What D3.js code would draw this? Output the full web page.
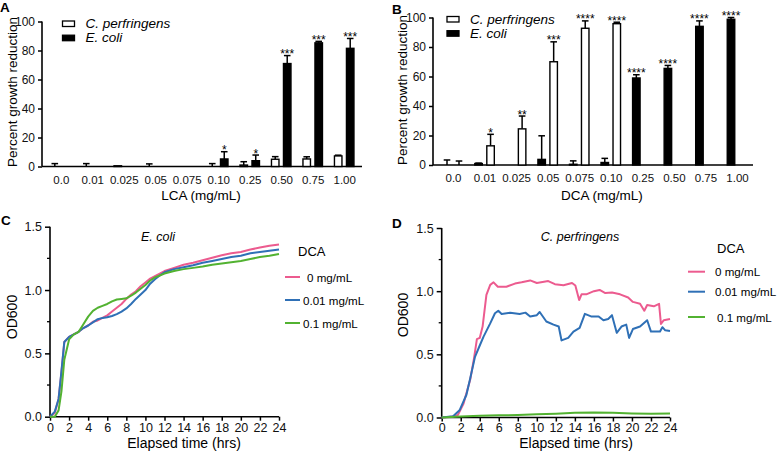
<!DOCTYPE html>
<html><head><meta charset="utf-8">
<script src="https://cdn.jsdelivr.net/npm/d3@7"></script>
<style>
body{margin:0;background:#fff;}
svg{display:block;font-family:Arial,'Liberation Sans',sans-serif;}
</style></head><body>
<svg id="c" width="778" height="455"></svg>
<script>
// ---------- data ----------
const concCats = ["0.0","0.01","0.025","0.05","0.075","0.10","0.25","0.50","0.75","1.00"];
// Panel A (LCA)
const lcaPerf    = [0, 0, 0.5, 0, 0, 0, 1, 5, 5.2, 7.3];
const lcaPerfErr = [2, 2, 0, 1.8, 0, 2, 2.3, 1.8, 1.5, 0.5];
const lcaEcoli    = [0, 0, 0, 0, 0, 5.2, 4, 71, 85.3, 81.5];
const lcaEcoliErr = [0, 0, 0, 0, 0, 5, 3.9, 5.5, 1, 6.8];
const lcaStars    = ["","","","","","*","*","***","***","***"];
const lcaStarSeries = ["","","","","","ecoli","ecoli","ecoli","ecoli","ecoli"];
// Panel B (DCA)
const dcaEcoli    = [0, 1, 0, 3.8, 0.5, 1.7, 59, 65.5, 94, 98.8];
const dcaEcoliErr = [3.4, 0.3, 0, 16, 2.3, 2.8, 2.2, 2, 3.7, 1.2];
const dcaPerf     = [0, 13, 24.5, 70, 92.7, 95.8, 0, 0, 0, 0];
const dcaPerfErr  = [2.7, 7.8, 8.7, 13.5, 5, 1, 0, 0, 0, 0];
const dcaStars    = ["","*","**","***","****","****","****","****","****","****"];
const dcaStarSeries = ["","perf","perf","perf","perf","perf","ecoli","ecoli","ecoli","ecoli"];
const pctTicks = [0,20,40,60,80,100];
// Panel C (E. coli growth)
const cTime  = [0,0.5,0.9,1.2,1.5,2,2.5,3,3.5,4,4.5,5,5.5,6,6.5,7,7.5,8,8.5,9,9.5,10,10.5,11,11.5,12,13,14,15,16,17,18,19,20,21,22,23,24];
const cPink  = [0,0.03,0.14,0.35,0.59,0.63,0.65,0.67,0.70,0.72,0.75,0.76,0.78,0.80,0.83,0.86,0.89,0.93,0.965,0.99,1.03,1.06,1.09,1.11,1.13,1.15,1.175,1.20,1.215,1.235,1.255,1.275,1.29,1.30,1.32,1.335,1.35,1.36];
const cBlue  = [0,0.04,0.14,0.36,0.59,0.63,0.65,0.67,0.70,0.72,0.745,0.77,0.78,0.785,0.795,0.81,0.83,0.855,0.89,0.93,0.965,1.00,1.05,1.085,1.115,1.14,1.165,1.18,1.195,1.215,1.23,1.245,1.26,1.27,1.29,1.30,1.31,1.32];
const cGreen = [0,0,0.05,0.2,0.45,0.61,0.65,0.67,0.73,0.79,0.835,0.86,0.875,0.89,0.91,0.925,0.93,0.935,0.955,0.98,1.01,1.04,1.075,1.10,1.115,1.13,1.15,1.165,1.175,1.185,1.20,1.21,1.22,1.23,1.245,1.26,1.27,1.285];
// Panel D (C. perfringens growth)
const dPinkT = [0,1,1.7,2.3,3.0,3.4,3.7,4.0,4.3,4.7,5.1,5.45,5.9,6.8,7.7,8.4,9.3,10.0,11.2,11.9,12.8,13.7,14.05,14.45,14.7,15.2,16.0,16.6,17.2,17.9,18.75,19.6,20.1,20.85,21.3,21.6,22.3,22.85,23.05,23.35,24];
const dPinkV = [0,0.005,0.02,0.11,0.30,0.47,0.62,0.63,0.72,0.97,1.05,1.07,1.035,1.035,1.06,1.07,1.085,1.065,1.08,1.055,1.047,1.065,1.045,0.93,0.975,0.975,1.0,1.01,0.985,0.99,0.975,0.95,0.915,0.9,0.845,0.89,0.88,0.9,0.74,0.77,0.78];
const dBlueT = [0,1.2,1.9,2.6,3.0,3.5,4.0,4.4,5.1,5.6,5.95,6.3,7.2,8.2,8.8,9.3,10.0,10.3,11.0,11.75,12.3,12.6,13.3,13.85,14.5,15.05,15.7,16.5,17.0,17.5,17.9,18.4,18.9,19.4,19.7,20.1,20.85,21.6,22.0,22.95,23.2,23.5,24];
const dBlueV = [0,0.01,0.06,0.18,0.31,0.48,0.57,0.64,0.745,0.825,0.845,0.82,0.83,0.82,0.83,0.80,0.81,0.835,0.76,0.735,0.72,0.61,0.63,0.68,0.71,0.82,0.80,0.80,0.77,0.78,0.81,0.67,0.72,0.735,0.63,0.70,0.72,0.77,0.68,0.68,0.715,0.69,0.685];
const dGreenT = [0,2,4,6,8,10,12,14,16,18,20,22,24];
const dGreenV = [0,0.008,0.013,0.017,0.02,0.025,0.03,0.037,0.04,0.037,0.032,0.03,0.032];
const odTicks = [0,0.5,1.0,1.5];
const odMinor = [0.25,0.75,1.25];
const hrTicks = [0,2,4,6,8,10,12,14,16,18,20,22,24];
const legendLabels = ["0 mg/mL","0.01 mg/mL","0.1 mg/mL"];
const lineColors = ["#ec5b8f","#2f70b6","#52b231"];

// ---------- drawing ----------
const svg = d3.select("#c");
svg.append("rect").attr("width",778).attr("height",455).attr("fill","#fff");
const FONT = "Arial,'Liberation Sans',sans-serif";

function panelLetter(t,x,y){
  svg.append("text").attr("x",x).attr("y",y).attr("font-size",13.5).attr("font-weight","bold").text(t);
}

function barPanel(o){
  const g = svg.append("g");
  const x = d3.scalePoint().domain(concCats).range(o.xr);
  const y = d3.scaleLinear().domain([0,100]).range(o.yr);
  const w = 7.5, off = 6;
  const ya = g.append("g").attr("transform",`translate(${o.ax0},0)`)
    .call(d3.axisLeft(y).tickValues(pctTicks).tickSize(4).tickPadding(3).tickFormat(d3.format("d")));
  ya.select(".domain").attr("stroke-width",1.6).attr("d",`M0,${o.yr[0]}V${o.yr[1]}`);
  ya.selectAll(".tick line").attr("stroke-width",1.5);
  ya.selectAll("text").attr("font-size",12).attr("font-family",FONT).attr("fill","#111");
  const xa = g.append("g").attr("transform",`translate(0,${o.yr[0]})`)
    .call(d3.axisBottom(x).tickSize(0).tickPadding(9));
  xa.select(".domain").attr("stroke-width",1.6).attr("d",`M${o.ax0},0H${o.ax1}`);
  xa.selectAll("text").attr("font-size",11.5).attr("font-family",FONT).attr("fill","#111");
  o.series.forEach(s=>{
    const cx = i => x(concCats[i]) + s.off*off;
    s.vals.forEach((v,i)=>{
      if(s.err[i]<=0) return;
      const top = y(v + s.err[i]);
      g.append("line").attr("x1",cx(i)).attr("x2",cx(i)).attr("y1",y(v)).attr("y2",top).attr("stroke","#000").attr("stroke-width",1.5);
      g.append("line").attr("x1",cx(i)-3.3).attr("x2",cx(i)+3.3).attr("y1",top).attr("y2",top).attr("stroke","#000").attr("stroke-width",1.5);
    });
    g.selectAll(null).data(s.vals).enter().append("rect")
      .attr("x",(d,i)=>cx(i)-w/2).attr("width",w)
      .attr("y",d=>y(d)).attr("height",d=>Math.max(0,y(0)-y(d)))
      .attr("fill",s.fill).attr("stroke","#000").attr("stroke-width",1.4);
  });
  o.stars.forEach((st,i)=>{
    if(!st) return;
    const s = o.series.find(z=>z.key===o.starSeries[i]);
    const top = y(s.vals[i]+s.err[i]);
    g.append("text").attr("x",x(concCats[i])+s.off*off).attr("y",top+2.5)
      .attr("text-anchor","middle").attr("font-size",12).text(st);
  });
  g.append("text").attr("transform",`translate(${o.ytx},${o.yty}) rotate(-90)`)
    .attr("text-anchor","middle").attr("font-size",13.5).text("Percent growth reduction");
  g.append("text").attr("x",o.xtx).attr("y",200).attr("text-anchor","middle").attr("font-size",13.5).text(o.xtitle);
  o.series.slice().sort((a,b)=>a.leg-b.leg).forEach((s,k)=>{
    g.append("rect").attr("x",o.lx).attr("y",o.ly+k*14.2-5).attr("width",12).attr("height",5.5)
      .attr("fill",s.fill).attr("stroke","#000").attr("stroke-width",1.3);
    g.append("text").attr("x",o.lx+23).attr("y",o.ly+k*14.2+2).attr("font-size",13.5).attr("font-style","italic").text(s.name);
  });
}

barPanel({
  xr:[60.8,344.2], yr:[166.5,21.5], ax0:42, ax1:362,
  series:[
    {key:"perf", name:"C. perfringens", vals:lcaPerf, err:lcaPerfErr, fill:"#fff", off:-1, leg:0},
    {key:"ecoli", name:"E. coli", vals:lcaEcoli, err:lcaEcoliErr, fill:"#000", off:1, leg:1}
  ],
  stars:lcaStars, starSeries:lcaStarSeries,
  ytx:17, yty:92, xtx:201, xtitle:"LCA (mg/mL)", lx:62.5, ly:26
});
barPanel({
  xr:[453,737], yr:[165,17.5], ax0:433, ax1:753,
  series:[
    {key:"ecoli", name:"E. coli", vals:dcaEcoli, err:dcaEcoliErr, fill:"#000", off:-1, leg:1},
    {key:"perf", name:"C. perfringens", vals:dcaPerf, err:dcaPerfErr, fill:"#fff", off:1, leg:0}
  ],
  stars:dcaStars, starSeries:dcaStarSeries,
  ytx:407, yty:90, xtx:602, xtitle:"DCA (mg/mL)", lx:447, ly:21.5
});

function linePanel(o){
  const g = svg.append("g");
  const x = d3.scaleLinear().domain([0,24]).range(o.xr);
  const y = d3.scaleLinear().domain([0,1.5]).range(o.yr);
  const ya = g.append("g").attr("transform",`translate(${o.xr[0]},0)`)
    .call(d3.axisLeft(y).tickValues(odTicks).tickSize(5).tickPadding(3).tickFormat(d3.format(".1f")));
  ya.select(".domain").attr("stroke-width",1.6).attr("d",`M0,${o.yr[0]}V${o.yr[1]}`);
  ya.selectAll(".tick line").attr("stroke-width",1.5);
  ya.selectAll("text").attr("font-size",12.5).attr("font-family",FONT).attr("fill","#111");
  g.selectAll(null).data(odMinor).enter().append("line")
    .attr("x1",o.xr[0]-3).attr("x2",o.xr[0]).attr("y1",d=>y(d)).attr("y2",d=>y(d)).attr("stroke","#000").attr("stroke-width",1.3);
  const xa = g.append("g").attr("transform",`translate(0,${o.yr[0]})`)
    .call(d3.axisBottom(x).tickValues(hrTicks).tickSize(4).tickPadding(2).tickFormat(d3.format("d")));
  xa.select(".domain").attr("stroke-width",1.6).attr("d",`M${o.xr[0]},0H${o.xr[1]}`);
  xa.selectAll(".tick line").attr("stroke-width",1.5);
  xa.selectAll("text").attr("font-size",12.5).attr("font-family",FONT).attr("fill","#111");
  const line = d3.line().x(d=>x(d[0])).y(d=>y(d[1]));
  o.lines.forEach((L,k)=>{
    const pts = L.t.map((t,i)=>[t,L.v[i]]);
    g.append("path").attr("d",line(pts)).attr("fill","none").attr("stroke",lineColors[k])
      .attr("stroke-width",2).attr("stroke-linejoin","round");
  });
  g.append("text").attr("transform",`translate(${o.ytx},${o.yty}) rotate(-90)`)
    .attr("text-anchor","middle").attr("font-size",14).text("OD600");
  g.append("text").attr("x",o.xtx).attr("y",448).attr("text-anchor","middle").attr("font-size",14).text("Elapsed time (hrs)");
  g.append("text").attr("x",o.tx).attr("y",241).attr("text-anchor","middle").attr("font-size",12.5).attr("font-style","italic").text(o.title);
  g.append("text").attr("x",o.dcaX).attr("y",o.dcaY).attr("font-size",13).text("DCA");
  legendLabels.forEach((lab,k)=>{
    g.append("line").attr("x1",o.lx).attr("x2",o.lx+o.lw).attr("y1",o.ly[k]).attr("y2",o.ly[k])
      .attr("stroke",lineColors[k]).attr("stroke-width",2);
    g.append("text").attr("x",o.ltx[k]).attr("y",o.ly[k]+4.5).attr("font-size",11.6).text(lab);
  });
}

linePanel({
  xr:[50,279], yr:[416.7,226.7],
  lines:[{t:cTime,v:cPink},{t:cTime,v:cBlue},{t:cTime,v:cGreen}],
  ytx:17, yty:317, xtx:184, tx:158, title:"E. coli",
  dcaX:298, dcaY:256, lx:285, lw:15, ly:[277,300,323], ltx:[307,303,303]
});
linePanel({
  xr:[441.7,670], yr:[417.5,228],
  lines:[{t:dPinkT,v:dPinkV},{t:dBlueT,v:dBlueV},{t:dGreenT,v:dGreenV}],
  ytx:408, yty:315, xtx:576, tx:580, title:"C. perfringens",
  dcaX:717, dcaY:253, lx:688, lw:17, ly:[271.7,291.7,317], ltx:[715,715,717]
});

panelLetter("A",0,12);
panelLetter("B",392,14);
panelLetter("C",1,225);
panelLetter("D",392,228);
</script>
</body></html>
